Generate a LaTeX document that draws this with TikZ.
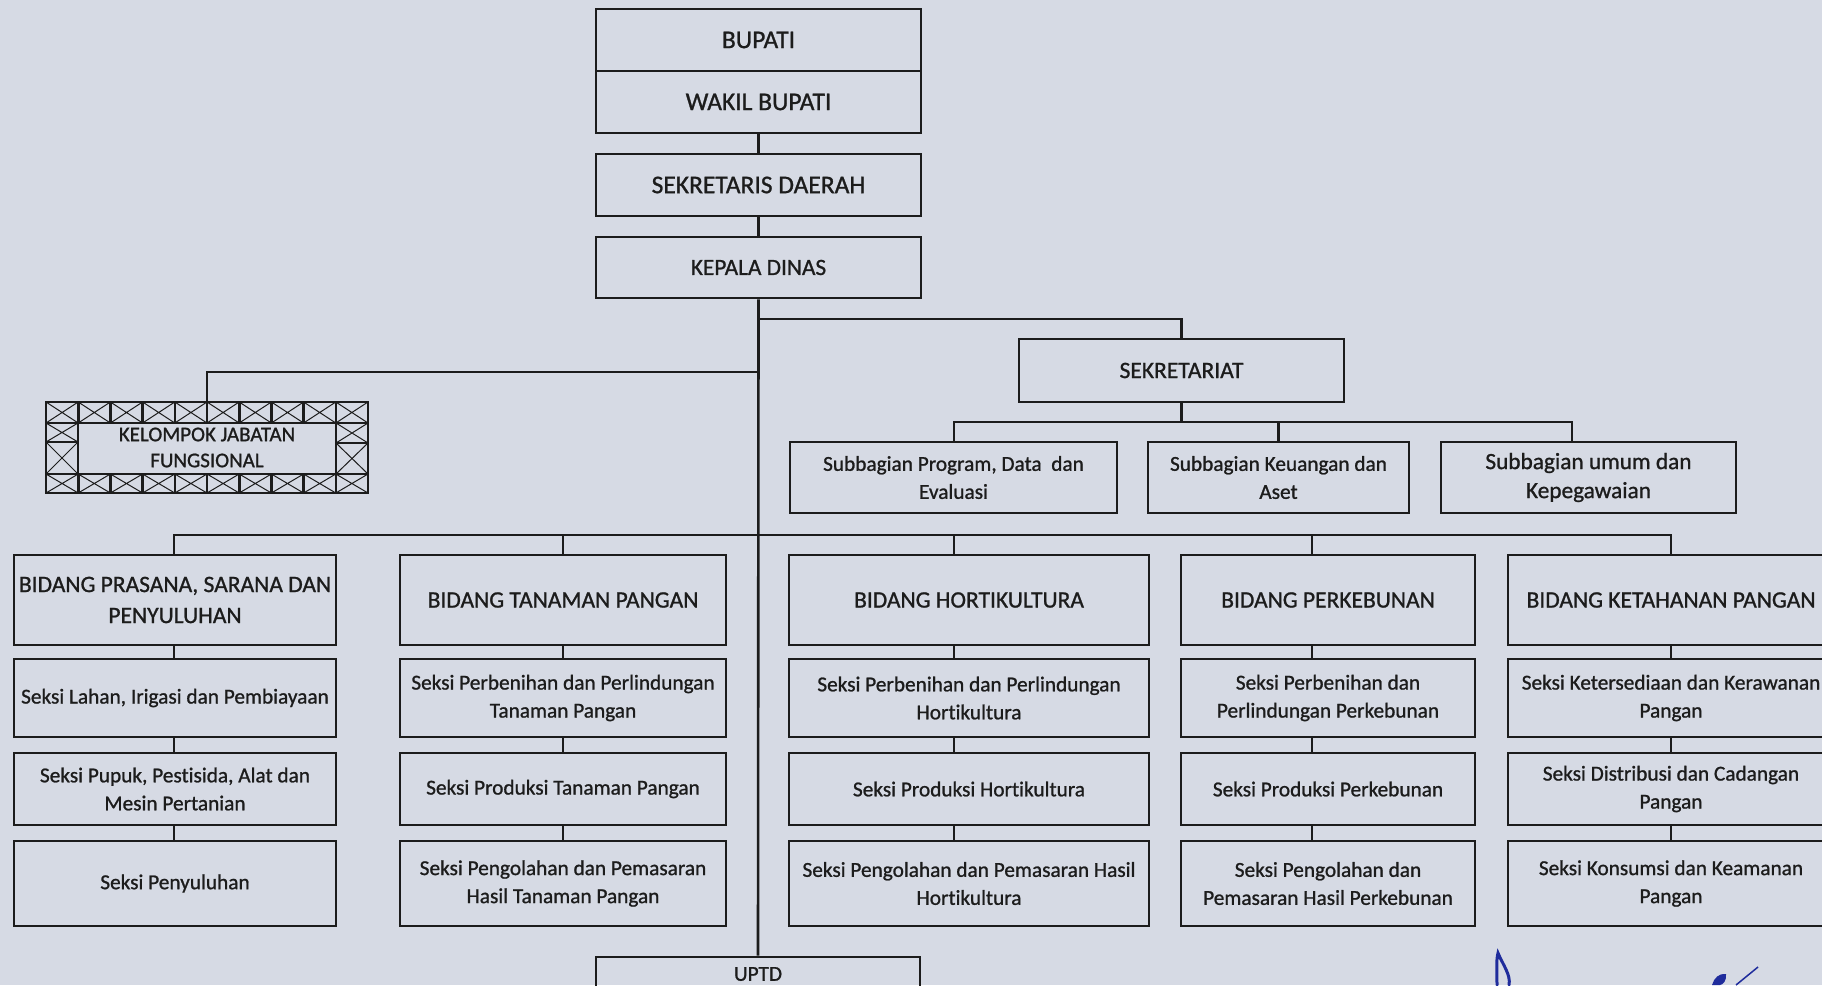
\documentclass[tikz,border=0pt]{standalone}
\usepackage{fontspec}
\setmainfont{Carlito}[FakeBold=1,Ligatures={NoCommon,NoContextual},Contextuals=NoAlternate]
\definecolor{bgc}{HTML}{D6DAE4}
\definecolor{ink}{HTML}{1C1C1C}
\definecolor{sigc}{HTML}{1F2C9C}
\tikzset{
  box/.style={draw=ink, line width=2.6pt, inner sep=0pt, align=center, text=ink},
  top/.style={font=\fontsize{25.5}{30}\selectfont},
  big/.style={font=\fontsize{23.5}{31}\selectfont},
  mid/.style={font=\fontsize{23.3}{29}\selectfont},
  sml/.style={font=\fontsize{21.3}{28}\selectfont},
  conn/.style={draw=ink, line width=2.6pt},
  hatch/.style={draw=ink, line width=1pt},
  sig/.style={draw=sigc, line width=3pt, line cap=round}
}
\begin{document}
\begin{tikzpicture}[x=1pt,y=-1pt]
\useasboundingbox (0,0) rectangle (1822,985);
\fill[bgc] (0,0) rectangle (1822,985);

% top chain
\node[box,top,minimum width=325,minimum height=62] (bupati) at (758.5,40) {BUPATI};
\node[box,top,minimum width=325,minimum height=62] (wakil) at (758.5,102) {WAKIL BUPATI};
\node[box,top,minimum width=325,minimum height=62] (sekda) at (758.5,185) {SEKRETARIS DAERAH};
\node[box,mid,minimum width=325,minimum height=61] (kadis) at (758.5,267.5) {KEPALA DINAS};
\node[box,big,minimum width=325,minimum height=63] (sekret) at (1181.5,370.5) {SEKRETARIAT};

% kelompok jabatan fungsional
\node[box,font=\fontsize{21}{26}\selectfont,minimum width=322,minimum height=91] (kjf) at (207,447.5) {KELOMPOK JABATAN\\FUNGSIONAL};
\foreach \k in {0,...,9}{
  \pgfmathsetmacro\xa{46+32.2*\k}
  \draw[hatch] (\xa,402) -- ++(32.2,21) (\xa,423) -- ++(32.2,-21)
               (\xa,474) -- ++(32.2,19) (\xa,493) -- ++(32.2,-19);
  \draw[conn] (\xa,402) rectangle ++(32.2,21) (\xa,474) rectangle ++(32.2,19);
}
\draw[hatch] (46,423) -- (78,442) (46,442) -- (78,423) (46,442) -- (78,474) (46,474) -- (78,442)
             (336,423) -- (368,443) (336,443) -- (368,423) (336,443) -- (368,474) (336,474) -- (368,443);
\draw[conn] (46,423) rectangle (78,442) (46,442) rectangle (78,474)
            (336,423) rectangle (368,443) (336,443) rectangle (368,474);

% subbagian
\node[box,sml,minimum width=327,minimum height=71] (sub1) at (953.5,477.5) {Subbagian Program, Data\ \ dan\\Evaluasi};
\node[box,sml,minimum width=261,minimum height=71] (sub2) at (1278.5,477.5) {Subbagian Keuangan dan\\Aset};
\node[box,mid,minimum width=295,minimum height=71] (sub3) at (1588.5,477.5) {Subbagian umum dan\\Kepegawaian};

% column x for connectors
\coordinate (x1) at (174,0);
\coordinate (x2) at (563,0);
\coordinate (x3) at (954,0);
\coordinate (x4) at (1312,0);
\coordinate (x5) at (1671,0);

% column 1
\node[box,big,minimum width=322,minimum height=90] (b1) at (175,600) {BIDANG PRASANA, SARANA DAN\\PENYULUHAN};
\node[box,sml,minimum width=322,minimum height=78] (s11) at (175,698) {Seksi Lahan, Irigasi dan Pembiayaan};
\node[box,sml,minimum width=322,minimum height=72] (s12) at (175,789) {Seksi Pupuk, Pestisida, Alat dan\\Mesin Pertanian};
\node[box,sml,minimum width=322,minimum height=85] (s13) at (175,883.5) {Seksi Penyuluhan};
% column 2
\node[box,big,minimum width=326,minimum height=90] (b2) at (563,600) {BIDANG TANAMAN PANGAN};
\node[box,sml,minimum width=326,minimum height=78] (s21) at (563,698) {Seksi Perbenihan dan Perlindungan\\Tanaman Pangan};
\node[box,sml,minimum width=326,minimum height=72] (s22) at (563,789) {Seksi Produksi Tanaman Pangan};
\node[box,sml,minimum width=326,minimum height=85] (s23) at (563,883.5) {Seksi Pengolahan dan Pemasaran\\Hasil Tanaman Pangan};
% column 3
\node[box,big,minimum width=360,minimum height=90] (b3) at (969,600) {BIDANG HORTIKULTURA};
\node[box,sml,minimum width=360,minimum height=78] (s31) at (969,698) {Seksi Perbenihan dan Perlindungan\\Hortikultura};
\node[box,sml,minimum width=360,minimum height=72] (s32) at (969,789) {Seksi Produksi Hortikultura};
\node[box,sml,minimum width=360,minimum height=85] (s33) at (969,883.5) {Seksi Pengolahan dan Pemasaran Hasil\\Hortikultura};
% column 4
\node[box,big,minimum width=294,minimum height=90] (b4) at (1328,600) {BIDANG PERKEBUNAN};
\node[box,sml,minimum width=294,minimum height=78] (s41) at (1328,698) {Seksi Perbenihan dan\\Perlindungan Perkebunan};
\node[box,sml,minimum width=294,minimum height=72] (s42) at (1328,789) {Seksi Produksi Perkebunan};
\node[box,sml,minimum width=294,minimum height=85] (s43) at (1328,883.5) {Seksi Pengolahan dan\\Pemasaran Hasil Perkebunan};
% column 5
\node[box,big,minimum width=326,minimum height=90] (b5) at (1671,600) {BIDANG KETAHANAN PANGAN};
\node[box,sml,minimum width=326,minimum height=78] (s51) at (1671,698) {Seksi Ketersediaan dan Kerawanan\\Pangan};
\node[box,sml,minimum width=326,minimum height=72] (s52) at (1671,789) {Seksi Distribusi dan Cadangan\\Pangan};
\node[box,sml,minimum width=326,minimum height=85] (s53) at (1671,883.5) {Seksi Konsumsi dan Keamanan\\Pangan};

% UPTD
\node[box,sml,minimum width=324,minimum height=34] (uptd) at (758,974) {UPTD};

% connectors
\draw[conn] (wakil.south) -- (sekda.north);
\draw[conn] (sekda.south) -- (kadis.north);
\draw[conn] (kadis.south) -- (uptd.north);
\draw[conn] (kadis.south |- 0,319) -| (sekret.north);
\draw[conn] (kadis.south |- 0,372) -| (kjf.north);
\coordinate (sbar) at (1181.5,422);
\draw[conn] (sekret.south) -- (sbar);
\draw[conn] (sub1.north -| x3) |- (sbar) -| (sub3.north -| 1572,0);
\draw[conn] (sbar -| sub2.north) -- (sub2.north);
\coordinate (bbar) at (759,535);
\draw[conn] (b1.north -| x1) |- (bbar) -| (b5.north -| x5);
\foreach \n/\x in {2/x2,3/x3,4/x4}{
  \draw[conn] (bbar -| \x) -- (b\n.north -| \x);
}
\foreach \n/\x in {1/x1,2/x2,3/x3,4/x4,5/x5}{
  \draw[conn] (b\n.south -| \x) -- (s\n1.north -| \x);
  \draw[conn] (s\n1.south -| \x) -- (s\n2.north -| \x);
  \draw[conn] (s\n2.south -| \x) -- (s\n3.north -| \x);
}

% signature fragments
\draw[sig] (1497,985) .. controls (1497,972) and (1496,960) .. (1498,953) .. controls (1503,965) and (1511,975) .. (1509,985);
\fill[sigc] (1712,985) .. controls (1714,978) and (1719,973) .. (1726,974) .. controls (1727,980) and (1723,985) .. (1720,985) -- cycle;
\draw[draw=sigc, line width=1.5pt] (1736,985) -- (1758,967);
\end{tikzpicture}
\end{document}
